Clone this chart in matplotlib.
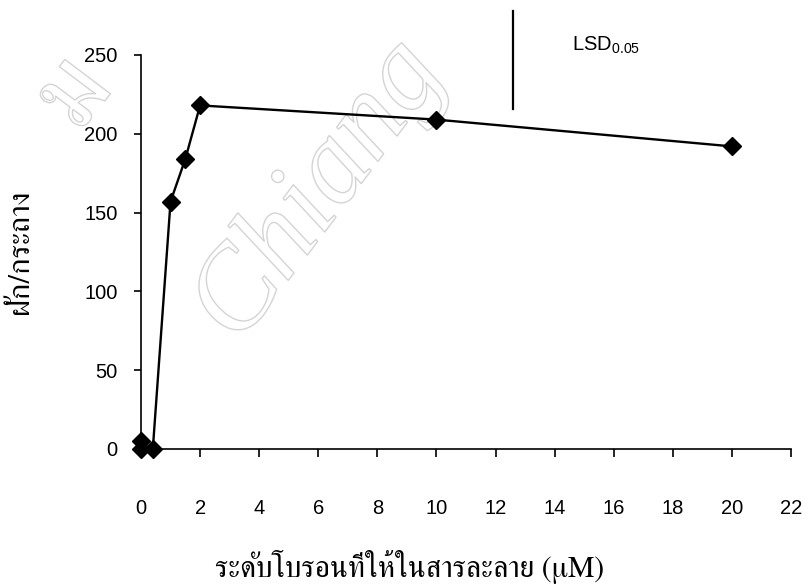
import matplotlib
matplotlib.use('Agg')
import matplotlib.pyplot as plt
import matplotlib.patheffects as pe

# Pods per pot at each boron level in the nutrient solution (uM)
boron = [0, 0, 0.4, 1, 1.5, 2, 10, 20]
pods = [5, 0, 0, 157, 184, 218, 209, 192]

xticks = list(range(0, 24, 2))
yticks = list(range(0, 300, 50))

# LSD bar: x position and the span it covers
lsd_x = 12.6
lsd_span = (216, 278)

thai = ['Norasi', 'FreeSerif', 'DejaVu Serif']
sans = ['Liberation Sans', 'DejaVu Sans']

plt.rcParams['font.family'] = sans
plt.rcParams['mathtext.fontset'] = 'custom'
plt.rcParams['mathtext.rm'] = 'Liberation Sans'

fig = plt.figure(figsize=(8.08, 5.85), dpi=100)
ax = fig.add_axes([0.1745, 0.2325, 0.8045, 0.6735])
ax.set_zorder(1)
ax.patch.set_alpha(0)

# faint outlined watermark behind the data
outline = [pe.Stroke(linewidth=1.0, foreground='#d4d4d4')]
fig.text(0.396, 0.672, 'Chiang', family='Liberation Serif', style='italic',
         fontsize=84, rotation=53, ha='center', va='center', color='none',
         path_effects=outline, zorder=0)
fig.text(0.095, 0.835, 'ม', family=thai, fontsize=78, rotation=53,
         ha='center', va='center', color='none',
         path_effects=outline, zorder=0)

ax.plot(boron, pods, color='black', lw=1.7, marker='D', ms=9.5,
        clip_on=False, zorder=3)

ax.plot([lsd_x, lsd_x], lsd_span, color='black', lw=1.6, clip_on=False)
ax.text(14.6, 253, r'LSD$_{0.05}$', fontsize=14.5, ha='left',
        va='baseline', clip_on=False)

ax.set_xlim(0, 22)
ax.set_ylim(0, 250)
ax.set_xticks(xticks)
ax.set_yticks(yticks)

for side in ['top', 'right']:
    ax.spines[side].set_visible(False)
for side in ['left', 'bottom']:
    ax.spines[side].set_linewidth(1.2)

ax.tick_params(axis='x', direction='out', length=6, width=1.2,
               pad=30, labelsize=14.5)
ax.tick_params(axis='y', direction='out', length=5, width=1.2,
               pad=12, labelsize=14.5)

fig.text(0.507, 0.031, 'ระดับโบรอนที่ให้ในสารละลาย (μM)', family=thai,
         fontsize=21.5, ha='center', va='center')
fig.text(0.026, 0.569, 'ฝัก/กระถาง', family=thai, fontsize=22,
         rotation=90, ha='center', va='center')

fig.savefig('out.png', dpi=100)
